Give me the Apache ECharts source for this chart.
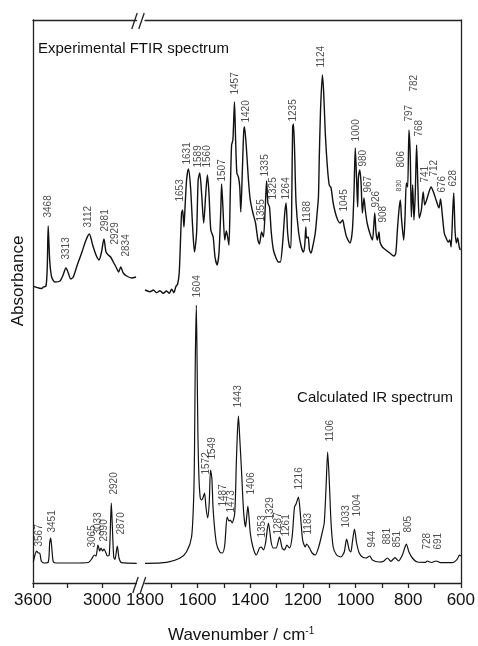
<!DOCTYPE html>
<html>
<head>
<meta charset="utf-8">
<script src="https://cdn.jsdelivr.net/npm/echarts@6/dist/echarts.min.js"></script>
<style>
  html, body { margin: 0; padding: 0; background: #fff; }
  #main { width: 478px; height: 646px; }
</style>
</head>
<body>
<div id="main"></div>
<script>
// experimental FTIR, 3600-2700 cm-1
var expHighWn = [3597, 3580, 3568, 3550, 3539, 3525, 3510, 3487, 3476, 3468, 3455, 3438, 3409, 3365, 3342, 3313, 3293, 3272, 3250, 3215, 3177, 3139, 3110, 3081, 3052, 3026, 3006, 2983, 2965, 2945, 2925, 2902, 2878, 2855, 2837, 2815, 2785, 2742, 2704]
var expHighAbs = [297, 296, 295.7, 295, 294.7, 294.5, 296, 297, 316, 357, 323, 306, 301, 302, 307, 315, 310, 304, 306, 318, 330, 343, 349, 338, 328, 323, 330, 344, 331, 328, 326, 321, 316, 311, 316, 310, 307, 305, 306]
// experimental FTIR, 1800-600 cm-1
var expLowWn = [1800, 1781, 1768, 1756, 1743, 1731, 1718, 1708, 1699, 1690, 1683, 1676, 1670, 1665, 1661, 1657, 1652, 1649, 1642, 1635, 1627, 1619, 1612, 1604, 1598, 1592, 1585, 1577, 1569, 1563, 1557, 1550, 1541, 1534, 1526, 1519, 1512, 1509, 1504, 1497, 1491, 1486, 1481, 1476, 1471, 1466, 1460, 1456, 1451, 1445, 1440, 1436, 1430, 1425, 1422, 1415, 1407, 1400, 1390, 1380, 1371, 1365, 1357, 1350, 1343, 1338, 1333, 1327, 1320, 1312, 1302, 1293, 1286, 1277, 1269, 1264, 1258, 1251, 1246, 1242, 1239, 1236, 1232, 1226, 1216, 1206, 1198, 1193, 1189, 1186, 1180, 1175, 1169, 1163, 1153, 1146, 1141, 1138, 1133, 1126, 1121, 1115, 1107, 1100, 1093, 1085, 1072, 1059, 1049, 1043, 1034, 1021, 1012, 1006, 1001, 996, 992, 989, 984, 979, 974, 968, 963, 956, 946, 936, 931, 927, 922, 917, 911, 907, 898, 885, 870, 854, 847, 841, 835, 830, 825, 817, 812, 807, 802, 797, 792, 788, 783, 778, 773, 768, 763, 758, 750, 743, 737, 730, 721, 713, 704, 694, 683, 677, 671, 663, 656, 648, 642, 637, 631, 627, 622, 617, 612, 606, 602]
var expLowAbs = [293, 291.3, 293, 290.3, 292.3, 289.7, 292, 289.7, 293.7, 290.3, 296.3, 299, 310, 343, 370, 373, 356, 370, 403, 414, 396, 356, 331, 350, 403, 410, 390, 360, 390, 408, 390, 353, 346, 326, 318, 330, 373, 399, 376, 343, 352, 346, 338, 390, 438, 443, 481, 446, 410, 406, 396, 371, 413, 451, 456, 436, 403, 383, 370, 360, 343, 339, 351, 346, 376, 402, 380, 376, 350, 333, 325, 321, 321, 340, 370, 380, 350, 336, 335, 390, 456, 459, 436, 380, 350, 336, 331, 338, 356, 345, 346, 333, 330, 336, 350, 370, 386, 423, 473, 508, 490, 450, 416, 398, 395, 380, 366, 360, 363, 356, 346, 340, 353, 390, 435, 403, 376, 406, 413, 400, 370, 385, 373, 360, 350, 343, 356, 370, 350, 343, 351, 341, 336, 333, 330, 327, 330, 353, 373, 383, 363, 343, 366, 400, 396, 453, 426, 366, 398, 363, 390, 438, 396, 365, 373, 391, 378, 383, 391, 396, 391, 383, 375, 384, 370, 350, 345, 341, 343, 336, 370, 390, 353, 340, 345, 336, 333]

// calculated IR, 3600-2700 cm-1
var calcHighWn = [3597, 3583, 3568, 3554, 3542, 3528, 3504, 3467, 3455, 3446, 3435, 3423, 3394, 3250, 3119, 3090, 3067, 3052, 3035, 3020, 3009, 2994, 2983, 2965, 2954, 2937, 2925, 2919, 2910, 2898, 2887, 2867, 2852, 2829, 2698]
var calcHighAbs = [21, 28, 32, 30, 30, 22, 20, 21, 40, 45, 33, 21, 20, 20, 20.5, 24, 28, 27, 38, 32, 35, 32, 34, 30, 27, 28, 63, 80, 56, 26, 23.7, 37, 25, 20.3, 19.7]
// calculated IR, 1800-600 cm-1
var calcLowWn = [1800, 1718, 1668, 1642, 1623, 1615, 1612, 1609, 1605, 1602, 1599, 1595, 1590, 1585, 1580, 1574, 1568, 1562, 1556, 1551, 1546, 1541, 1529, 1516, 1506, 1497, 1488, 1481, 1476, 1469, 1459, 1453, 1449, 1445, 1440, 1434, 1425, 1418, 1413, 1409, 1400, 1390, 1377, 1365, 1358, 1350, 1342, 1331, 1320, 1312, 1302, 1289, 1279, 1270, 1261, 1251, 1241, 1232, 1226, 1217, 1210, 1201, 1191, 1186, 1175, 1165, 1153, 1140, 1127, 1119, 1112, 1106, 1100, 1093, 1085, 1072, 1056, 1043, 1034, 1024, 1018, 1012, 1004, 996, 986, 974, 961, 946, 936, 911, 895, 879, 866, 850, 837, 822, 812, 807, 797, 784, 765, 734, 728, 712, 694, 677, 633, 614, 605, 600]
var calcLowAbs = [19.7, 20.7, 24.7, 31.3, 46, 86, 130, 220, 278, 220, 150, 105, 85, 83, 85, 90, 75, 65, 80, 113, 105, 73, 40, 31, 30, 38, 66, 62, 63, 60, 70, 120, 150, 167, 145, 116, 70, 56, 68, 77, 50, 36, 28, 35, 36, 33, 40, 60, 40, 35, 35, 46, 35, 33, 38, 35, 46, 76, 79, 86, 70, 43, 36, 39, 35, 30, 28, 36, 50, 60, 96, 131, 103, 60, 36, 28, 26, 31, 44, 33, 31, 41, 54, 40, 30, 26, 25, 27, 23, 21, 21.5, 25, 21.7, 25.3, 22, 28, 36, 39, 31, 25, 21, 20.7, 22, 20.5, 22, 20.3, 20.3, 23.7, 28, 27]

// peak labels: text, where the label stands (cm-1), label foot (absorbance)
var expPeakText = ['3468', '3313', '3112', '2981', '2929', '2834', '1653', '1631', '1589', '1560', '1507', '1457', '1420', '1355', '1335', '1325', '1264', '1235', '1188', '1124', '1045', '1000', '980', '967', '926', '908', '830', '806', '797', '782', '768', '741', '712', '676', '628']
var expPeakX = [3461, 3304, 3111, 2965, 2881, 2781, 1665, 1637, 1594, 1563, 1505, 1457, 1415, 1355, 1341, 1311, 1261, 1235, 1180, 1129, 1040, 996, 970, 949, 921, 894, 832, 823, 794, 775, 757, 734, 700, 668, 625]
var expPeakY = [365, 323, 355, 351, 338, 326, 381, 418, 415, 415, 401, 488, 460, 361, 406, 383, 383, 461, 360, 515, 371, 441, 416, 390, 375, 360, 391, 415, 461, 491, 446, 400, 406, 390, 396]

var calcPeakText = ['3567', '3451', '3065', '3033', '2990', '2920', '2870', '1604', '1572', '1549', '1487', '1473', '1443', '1406', '1353', '1329', '1287', '1261', '1216', '1183', '1106', '1033', '1004', '944', '881', '851', '805', '728', '691']
var calcPeakX = [3539, 3432, 3084, 3029, 2977, 2893, 2826, 1601, 1567, 1541, 1501, 1470, 1444, 1394, 1353, 1324, 1290, 1261, 1211, 1177, 1095, 1033, 990, 933, 878, 841, 797, 725, 682]
var calcPeakY = [36, 50, 35, 48, 41, 88, 48, 285, 108, 123, 76, 70, 175, 88, 45, 63, 48, 46, 93, 48, 141, 55, 66, 35, 38, 35, 50, 33, 33]

var highTicks = [3600, 3300, 3000]
var highLabels = [3600, 3000]
var lowTicks = [1700, 1600, 1500, 1400, 1300, 1200, 1100, 1000, 900, 800, 700, 600]
var lowLabels = [1800, 1600, 1400, 1200, 1000, 800, 600]

var FONT = 'Liberation Sans, Arial, sans-serif'

function pairs(xs, ys) {
  var out = []
  for (var i = 0; i < xs.length; i++) out.push([xs[i], ys[i]])
  return out
}

function peaks(texts, xs, ys, high) {
  var out = []
  for (var i = 0; i < texts.length; i++) {
    if ((xs[i] > 2000) === high) {
      out.push({
        value: [xs[i], ys[i]],
        name: texts[i],
        label: texts[i] === '830' ? { fontSize: 7 } : undefined
      })
    }
  }
  return out
}

var peakLabel = {
  show: true,
  position: [0, 0],
  rotate: 90,
  align: 'left',
  verticalAlign: 'middle',
  fontFamily: FONT,
  fontSize: 10,
  color: '#222',
  formatter: '{b}'
}

function lineSeries(idx, data, width) {
  return {
    type: 'line',
    xAxisIndex: idx,
    yAxisIndex: idx,
    data: data,
    showSymbol: false,
    symbol: 'none',
    smooth: 0.25,
    lineStyle: { color: '#111', width: width },
    silent: true
  }
}

function labelSeries(idx, data) {
  return {
    type: 'scatter',
    xAxisIndex: idx,
    yAxisIndex: idx,
    data: data,
    symbolSize: 1,
    itemStyle: { color: 'transparent' },
    label: peakLabel,
    silent: true
  }
}

var axisLine = { show: true, onZero: false, lineStyle: { color: '#222', width: 1.3 } }
var tickStyle = { show: true, length: 5, lineStyle: { color: '#222', width: 1.3 } }
var tickFont = {
  fontFamily: FONT, fontSize: 17, color: '#111', margin: 9,
  formatter: function (v) { return String(v) }
}

function bottomAxis(idx, min, max, ticks, labels) {
  return {
    type: 'value', gridIndex: idx, position: 'bottom', min: min, max: max, inverse: true,
    axisLine: axisLine,
    axisTick: Object.assign({ customValues: ticks }, tickStyle),
    axisLabel: Object.assign({ customValues: labels }, tickFont),
    splitLine: { show: false }
  }
}

function topAxis(idx, min, max) {
  return {
    type: 'value', gridIndex: idx, position: 'top', min: min, max: max, inverse: true,
    axisLine: axisLine, axisTick: { show: false }, axisLabel: { show: false }, splitLine: { show: false }
  }
}

function sideAxis(idx, pos) {
  return {
    type: 'value', gridIndex: idx, position: pos, min: 0, max: 563,
    axisLine: axisLine, axisTick: { show: false }, axisLabel: { show: false }, splitLine: { show: false }
  }
}

function slash(x, y) {
  return {
    type: 'line',
    shape: { x1: x - 2.7, y1: y + 8, x2: x + 2.7, y2: y - 8 },
    style: { stroke: '#222', lineWidth: 1.3 }
  }
}

var chart = echarts.init(document.getElementById('main'), null, { renderer: 'canvas' })
chart.setOption({
  animation: false,
  backgroundColor: '#fff',
  grid: [
    { left: 33, right: 341.5, top: 20, bottom: 63 },
    { left: 145, right: 16, top: 20, bottom: 63 }
  ],
  xAxis: [
    bottomAxis(0, 2700, 3600, highTicks, highLabels),
    bottomAxis(1, 600, 1800, lowTicks, lowLabels),
    topAxis(0, 2700, 3600),
    topAxis(1, 600, 1800)
  ],
  yAxis: [
    sideAxis(0, 'left'),
    sideAxis(1, 'right')
  ],
  series: [
    lineSeries(0, pairs(expHighWn, expHighAbs), 1.4),
    lineSeries(1, pairs(expLowWn, expLowAbs), 1.4),
    lineSeries(0, pairs(calcHighWn, calcHighAbs), 1.2),
    lineSeries(1, pairs(calcLowWn, calcLowAbs), 1.2),
    labelSeries(0, peaks(expPeakText, expPeakX, expPeakY, true)),
    labelSeries(1, peaks(expPeakText, expPeakX, expPeakY, false)),
    labelSeries(0, peaks(calcPeakText, calcPeakX, calcPeakY, true)),
    labelSeries(1, peaks(calcPeakText, calcPeakX, calcPeakY, false))
  ],
  graphic: [
    {
      type: 'text', left: 38, top: 41,
      style: { text: 'Experimental FTIR spectrum', font: '15px ' + FONT, fill: '#111' }
    },
    {
      type: 'text', right: 25, top: 390,
      style: { text: 'Calculated IR spectrum', font: '15px ' + FONT, fill: '#111' }
    },
    {
      type: 'text', x: 18, y: 281, rotation: Math.PI / 2,
      style: { text: 'Absorbance', font: '17px ' + FONT, fill: '#111', align: 'center', verticalAlign: 'middle' }
    },
    {
      type: 'text', left: 168, top: 626,
      style: {
        text: 'Wavenumber / cm{sup|-1}',
        font: '17px ' + FONT, fill: '#111',
        rich: { sup: { fontSize: 10, fontFamily: FONT, verticalAlign: 'top', padding: [0, 0, 8, 0] } }
      }
    },
    slash(134.5, 21),
    slash(141.5, 21),
    slash(135.5, 585),
    slash(143, 585)
  ]
})
</script>
</body>
</html>
